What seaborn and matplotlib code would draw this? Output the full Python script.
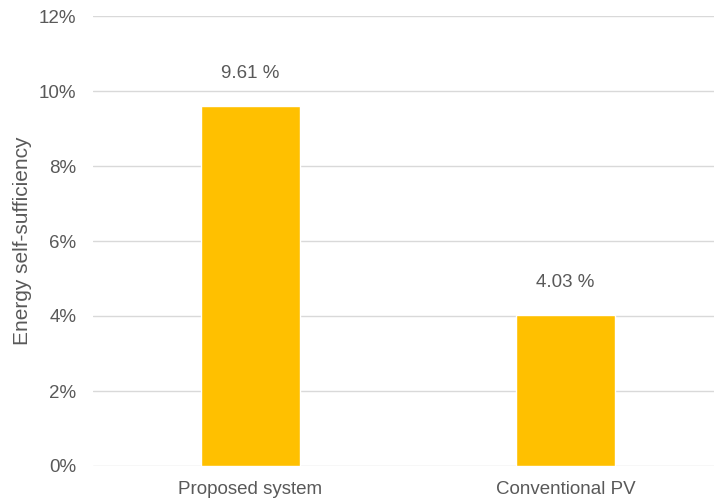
import matplotlib
matplotlib.use("Agg")
import matplotlib.pyplot as plt
import seaborn as sns
import pandas as pd
from matplotlib.ticker import FuncFormatter

categories = ["Proposed system", "Conventional PV"]
values = [9.61, 4.03]
labels = ["9.61 %", "4.03 %"]

sns.set_theme(style="white")
plt.rcParams['font.family'] = ['Liberation Sans', 'DejaVu Sans']

df = pd.DataFrame({"cat": categories, "val": values})

fig = plt.figure(figsize=(7.14, 5.01), dpi=100)
ax = fig.add_axes([93/714, 35/501, 630/714, 450/501])

sns.barplot(data=df, x="cat", y="val", color="#FFC000", saturation=1, width=0.315, ax=ax, zorder=3)

tc = "#595959"
ax.set_ylim(0, 12)
ax.set_yticks(range(0, 13, 2))
ax.yaxis.set_major_formatter(FuncFormatter(lambda v, p: f"{int(v)}%"))
ax.grid(axis="y", color="#D9D9D9", linewidth=1.0, zorder=0)
for s in ax.spines.values():
    s.set_visible(False)
ax.tick_params(axis="both", length=0, labelsize=13.5, labelcolor=tc)
ax.tick_params(axis="y", pad=12)
ax.tick_params(axis="x", pad=11)
ax.set_xlabel("")
ax.set_ylabel("Energy self-sufficiency", fontsize=15, color=tc, labelpad=5)

for p, lab in zip(ax.patches, labels):
    ax.annotate(lab, (p.get_x() + p.get_width() / 2, p.get_height()),
                xytext=(0, 17), textcoords="offset points", ha="center", va="bottom",
                fontsize=13.5, color=tc)

fig.savefig("out.png", dpi=100)
